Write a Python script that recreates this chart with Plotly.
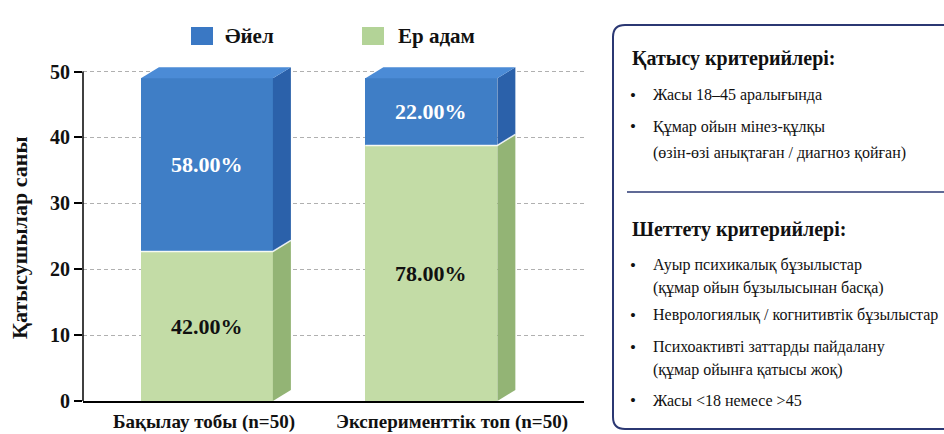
import plotly.graph_objects as go

# ---------------- data ----------------
categories = ["Бақылау тобы (n=50)", "Эксперименттік топ (n=50)"]
series_names = ["Әйел", "Ер адам"]
male_counts = [22.7, 38.8]      # Ер адам (front face height)
female_counts = [26.3, 10.2]    # Әйел
male_labels = ["42.00%", "78.00%"]
female_labels = ["58.00%", "22.00%"]
y_ticks = [0, 10, 20, 30, 40, 50]
y_title = "Қатысушылар саны"

inclusion_title = "Қатысу критерийлері:"
inclusion_items = [
    ["Жасы 18–45 аралығында"],
    ["Құмар ойын мінез-құлқы", "(өзін-өзі анықтаған / диагноз қойған)"],
]
exclusion_title = "Шеттету критерийлері:"
exclusion_items = [
    ["Ауыр психикалық бұзылыстар", "(құмар ойын бұзылысынан басқа)"],
    ["Неврологиялық / когнитивтік бұзылыстар"],
    ["Психоактивті заттарды пайдалану", "(құмар ойынға қатысы жоқ)"],
    ["Жасы <18 немесе >45"],
]

# ---------------- style ----------------
FONT = "Liberation Serif"
BLUE_FRONT, BLUE_SIDE, BLUE_TOP = "#3f7ec6", "#2b61aa", "#4b8bd6"
GREEN_FRONT, GREEN_SIDE = "#c3dca6", "#93b475"
BOX_COLOR = "#2b3873"
TXT = "#111111"

FIG_W, FIG_H = 944, 434
ML, MR, MT, MB = 83, 360, 65, 33
PW, PH = FIG_W - ML - MR, FIG_H - MT - MB
X_RANGE = [-0.552, 1.680]
Y_RANGE = [0, 51]
BAR_W = 0.588
DX = 18 * (X_RANGE[1] - X_RANGE[0]) / PW
DY = 11 * (Y_RANGE[1] - Y_RANGE[0]) / PH
CAT_LABEL_SHIFT = [-3, 21]   # pixel shift of category labels


def px(x):
    return (x - ML) / PW


def py(y):
    return 1 - (y - MT) / PH


xs = list(range(len(categories)))
fig = go.Figure()

fig.add_trace(go.Bar(x=xs, y=male_counts, width=BAR_W, name=series_names[1],
                     marker=dict(color=GREEN_FRONT, line=dict(width=0)),
                     showlegend=False, hoverinfo="skip"))
fig.add_trace(go.Bar(x=xs, y=female_counts, width=BAR_W, name=series_names[0],
                     marker=dict(color=BLUE_FRONT, line=dict(width=0)),
                     showlegend=False, hoverinfo="skip"))


def poly(xp, yp, color):
    fig.add_trace(go.Scatter(x=xp + [xp[0]], y=yp + [yp[0]], mode="lines", fill="toself",
                             fillcolor=color, line=dict(width=0, color=color),
                             showlegend=False, hoverinfo="skip"))


for i, (m, f) in enumerate(zip(male_counts, female_counts)):
    xl, xr = i - BAR_W / 2, i + BAR_W / 2
    top = m + f
    poly([xr, xr + DX, xr + DX, xr], [0, DY, m + DY, m], GREEN_SIDE)
    poly([xr, xr + DX, xr + DX, xr], [m, m + DY, top + DY, top], BLUE_SIDE)
    poly([xl, xl + DX, xr + DX, xr], [top, top + DY, top + DY, top], BLUE_TOP)
    # light seam between segments
    fig.add_trace(go.Scatter(x=[xl, xr, xr + DX], y=[m, m, m + DY], mode="lines",
                             line=dict(color="rgba(255,255,255,0.85)", width=1.5),
                             showlegend=False, hoverinfo="skip"))

annotations = []
shapes = []

# value labels inside segments
for i, (m, f) in enumerate(zip(male_counts, female_counts)):
    annotations.append(dict(x=i, y=m / 2, xref="x", yref="y", text=male_labels[i], showarrow=False,
                            xanchor="center", yanchor="middle",
                            font=dict(family=FONT, size=22, color=TXT, weight="bold")))
    annotations.append(dict(x=i, y=m + f / 2, xref="x", yref="y", text=female_labels[i], showarrow=False,
                            xanchor="center", yanchor="middle",
                            font=dict(family=FONT, size=22, color="white", weight="bold")))

# category labels
for i, cat in enumerate(categories):
    annotations.append(dict(x=i, y=py(422), xref="x", yref="paper", text=cat, showarrow=False,
                            xshift=CAT_LABEL_SHIFT[i], xanchor="center", yanchor="middle",
                            font=dict(family=FONT, size=19, color=TXT, weight="bold")))

# y axis line (0..50)
shapes.append(dict(type="line", xref="paper", yref="y", x0=0, x1=0, y0=0, y1=y_ticks[-1],
                   line=dict(color="black", width=1.5)))

# y axis title
annotations.append(dict(x=px(20), y=py(238), xref="paper", yref="paper", text=y_title, textangle=-90,
                        xanchor="center", yanchor="middle", showarrow=False,
                        font=dict(family=FONT, size=22, color=TXT, weight="bold")))

# legend (custom)
legend_items = [(series_names[0], "#3a78c4", 191, 223), (series_names[1], "#b3d397", 362, 396)]
for name, col, sx, tx in legend_items:
    shapes.append(dict(type="rect", xref="paper", yref="paper", x0=px(sx), x1=px(sx + 22),
                       y0=py(45), y1=py(27), fillcolor=col, line=dict(width=0)))
    annotations.append(dict(x=px(tx), y=py(36), xref="paper", yref="paper", text=name, showarrow=False,
                            xanchor="left", yanchor="middle",
                            font=dict(family=FONT, size=21, color=TXT, weight="bold")))

# criteria box
bx0, bx1, by0, by1, r = 613, 962, 25, 429, 12
rx, ry = r / PW, r / PH
path = (f"M {px(bx0)+rx} {py(by0)} L {px(bx1)-rx} {py(by0)} "
        f"Q {px(bx1)} {py(by0)} {px(bx1)} {py(by0)-ry} L {px(bx1)} {py(by1)+ry} "
        f"Q {px(bx1)} {py(by1)} {px(bx1)-rx} {py(by1)} L {px(bx0)+rx} {py(by1)} "
        f"Q {px(bx0)} {py(by1)} {px(bx0)} {py(by1)+ry} L {px(bx0)} {py(by0)-ry} "
        f"Q {px(bx0)} {py(by0)} {px(bx0)+rx} {py(by0)} Z")
shapes.append(dict(type="path", xref="paper", yref="paper", path=path,
                   line=dict(color=BOX_COLOR, width=2), fillcolor="rgba(0,0,0,0)"))
shapes.append(dict(type="line", xref="paper", yref="paper", x0=px(627), x1=px(950), y0=py(192), y1=py(192),
                   line=dict(color=BOX_COLOR, width=1.5)))


def head(text, y):
    annotations.append(dict(x=px(630), y=py(y), xref="paper", yref="paper", text=text, showarrow=False,
                            xanchor="left", yanchor="middle",
                            font=dict(family=FONT, size=20, color=TXT, weight="bold")))


def bullets(items, ys):
    k = 0
    for item in items:
        for j, line in enumerate(item):
            if j == 0:
                annotations.append(dict(x=px(633), y=py(ys[k]), xref="paper", yref="paper", text="•",
                                        showarrow=False, xanchor="center", yanchor="middle",
                                        font=dict(family=FONT, size=17, color=TXT)))
            annotations.append(dict(x=px(651), y=py(ys[k]), xref="paper", yref="paper", text=line,
                                    showarrow=False, xanchor="left", yanchor="middle",
                                    font=dict(family=FONT, size=16, color=TXT)))
            k += 1


head(inclusion_title, 58)
bullets(inclusion_items, [95, 126.5, 153])
head(exclusion_title, 229)
bullets(exclusion_items, [265, 288, 315, 347, 370, 400])

fig.update_layout(
    width=FIG_W, height=FIG_H,
    margin=dict(l=ML, r=MR, t=MT, b=MB, autoexpand=False),
    paper_bgcolor="white", plot_bgcolor="white",
    barmode="stack", bargap=0,
    showlegend=False,
    font=dict(family=FONT),
    xaxis=dict(range=X_RANGE, tickvals=xs, showticklabels=False, showgrid=False, zeroline=False,
               showline=True, linecolor="black", linewidth=2, ticks="", automargin=False),
    yaxis=dict(range=Y_RANGE, tickvals=y_ticks, showgrid=True, gridcolor="#b0b0b0", griddash="4px,3px",
               gridwidth=1, zeroline=False, showline=False, ticks="outside", ticklen=8,
               tickcolor="black", tickwidth=1.5, automargin=False,
               tickfont=dict(family=FONT, size=20, color=TXT, weight="bold")),
    shapes=shapes,
    annotations=annotations,
)

fig.write_html("out.html", config={"displayModeBar": False},
               post_script="document.body.style.margin='0';document.body.style.overflow='hidden';")
